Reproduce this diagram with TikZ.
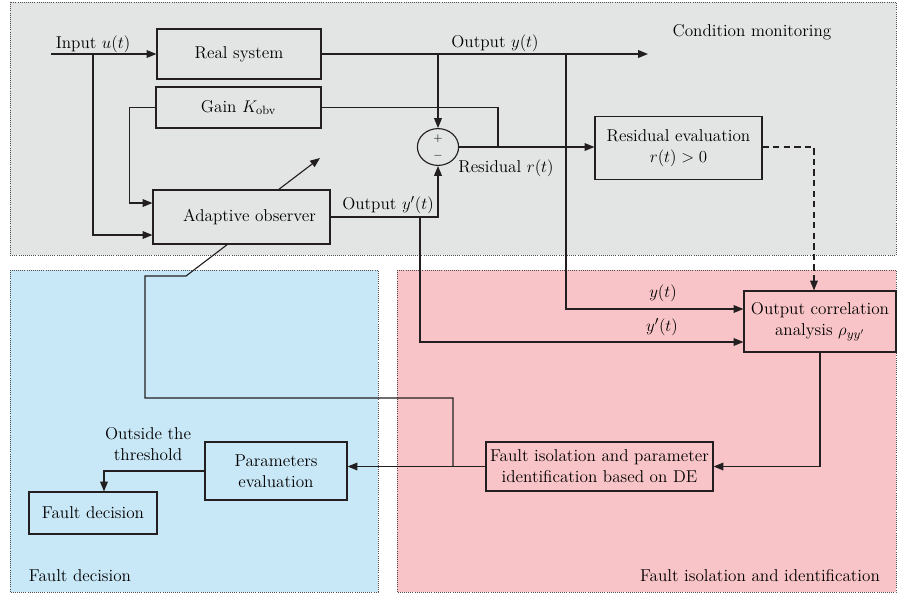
\documentclass[tikz,border=0pt]{standalone}
\usepackage{amsmath,amssymb}
\usepackage{xcolor}
\usepackage{tikz}
\usetikzlibrary{arrows.meta,calc,positioning,shapes.geometric}
\definecolor{monigray}{HTML}{E3E4E4}
\definecolor{decblue}{HTML}{C9E8F7}
\definecolor{isopink}{HTML}{F8C4C7}
\definecolor{ink}{HTML}{231F20}

\begin{document}
\begin{tikzpicture}[x=0.025cm,y=-0.025cm,
  font=\fontsize{12.2}{15}\selectfont,
  blk/.style={draw=ink,line width=0.8pt,align=center,inner sep=0pt},
  zone/.style={draw=ink!80,line width=0.5pt,dash pattern=on 0.6pt off 0.9pt},
  wire/.style={draw=ink,line width=0.8pt},
  flow/.style={wire,-{Triangle[length=7pt,width=5.5pt]}}]
  \useasboundingbox (0,0) rectangle (897,595);
  % three zones
  \filldraw[zone,fill=monigray] (10,2) rectangle (896,255);
  \filldraw[zone,fill=decblue] (10,270) rectangle (378,592);
  \filldraw[zone,fill=isopink] (397,270) rectangle (896,592);
  \node (zmon) at (752,32) {Condition monitoring};
  \node (zdec) at (80,576) {Fault decision};
  \node (ziso) at (760,576) {Fault isolation and identification};

  % blocks
  \node[blk,minimum width=4.1cm,minimum height=1.25cm] (real) at (239,54) {Real system};
  \node[blk,minimum width=4.125cm,minimum height=1.025cm] (gain) at (238.5,107.5) {Gain $K_{\text{obv}}$};
  \node[blk,minimum width=4.425cm,minimum height=1.35cm] (obs) at (241.5,217) {\hspace{0.4cm}Adaptive observer};
  \node[draw=ink,line width=0.8pt,ellipse,minimum width=1.03cm,minimum height=0.92cm,inner sep=0pt] (sum) at (438,147) {};
  \node[font=\footnotesize,inner sep=0pt] (splus) at (438,139) {$+$};
  \node[font=\footnotesize,inner sep=0pt] (sminus) at (438,156) {$-$};
  \node[blk,minimum width=4.175cm,minimum height=1.575cm] (reseval) at (678.5,148) {Residual evaluation\\$r(t)>0$};
  \node[blk,minimum width=3.8cm,minimum height=1.525cm] (corr) at (820,321.5) {Output correlation\\analysis $\rho_{yy'}$};
  \node[blk,minimum width=5.675cm,minimum height=1.225cm] (fiso) at (599.5,466.5) {Fault isolation and parameter\\identification based on DE};
  \node[blk,minimum width=3.55cm,minimum height=1.45cm] (peval) at (276,471) {Parameters\\evaluation};
  \node[blk,minimum width=3.2cm,minimum height=1.05cm] (fdec) at (93,513) {Fault decision};

  % signal labels
  \node (lu) at (93,44) {Input $u(t)$};
  \node (ly) at (495,43) {Output $y(t)$};
  \node (lyp) at (388,205) {Output $y'(t)$};
  \node (lr) at (506,168) {Residual $r(t)$};
  \node (lcy) at (663,293) {$y(t)$};
  \node (lcyp) at (662,327) {$y'(t)$};
  \node[align=center] (lthr) at (148,444) {Outside the\\threshold};

  % junctions
  \coordinate (uin) at (51,54);
  \coordinate (usplit) at (93,54);
  \coordinate (yout) at (648,54);
  \coordinate (ysplitA) at (438,54);
  \coordinate (ysplitB) at (566,54);
  \coordinate (rjoin) at (498,147);
  \coordinate (ypsplit) at (420,217);
  \coordinate (fbA) at (453,398);
  \coordinate (fbB) at (145,276);
  \coordinate (fbC) at (186,276);
  \coordinate (adjIn) at (228,244);
  \coordinate (adjOut) at (278,190);
  \coordinate (adjTip) at (320,158);

  % connectors
  \draw[flow] (uin) -- (real.west);
  \draw[flow] (usplit) |- ($(obs.west)+(0,18)$);
  \draw[flow] (gain.west) -- ++(-26,0) |- ($(obs.west)+(0,-14)$);
  \draw[flow] (real.east) -- (yout);
  \draw[flow] (ysplitA) -- (sum.north);
  \draw[flow] (ysplitB) |- ($(corr.west)+(0,-12.5)$);
  \draw[wire] (gain.east) -| (rjoin);
  \draw[flow] (sum.east) -- (reseval.west |- sum.east);
  \draw[flow] (obs.east) -| (sum.south);
  \draw[flow] (ypsplit) |- ($(corr.west)+(0,20.5)$);
  \draw[flow,dash pattern=on 4.5pt off 3pt] (reseval.east |- sum.east) -| ($(corr.north)+(-6,0)$);
  \draw[flow] (corr.south) |- (fiso.east);
  \draw[flow] (fiso.west) -- (fiso.west -| peval.east);
  \draw[wire] (fiso.west -| fbA) -- (fbA) -| (fbB) -- (fbC) -- (adjIn);
  \draw[flow] (adjOut) -- (adjTip);
  \draw[flow] (peval.west) -| ($(fdec.north)+(11,0)$);
\end{tikzpicture}
\end{document}
